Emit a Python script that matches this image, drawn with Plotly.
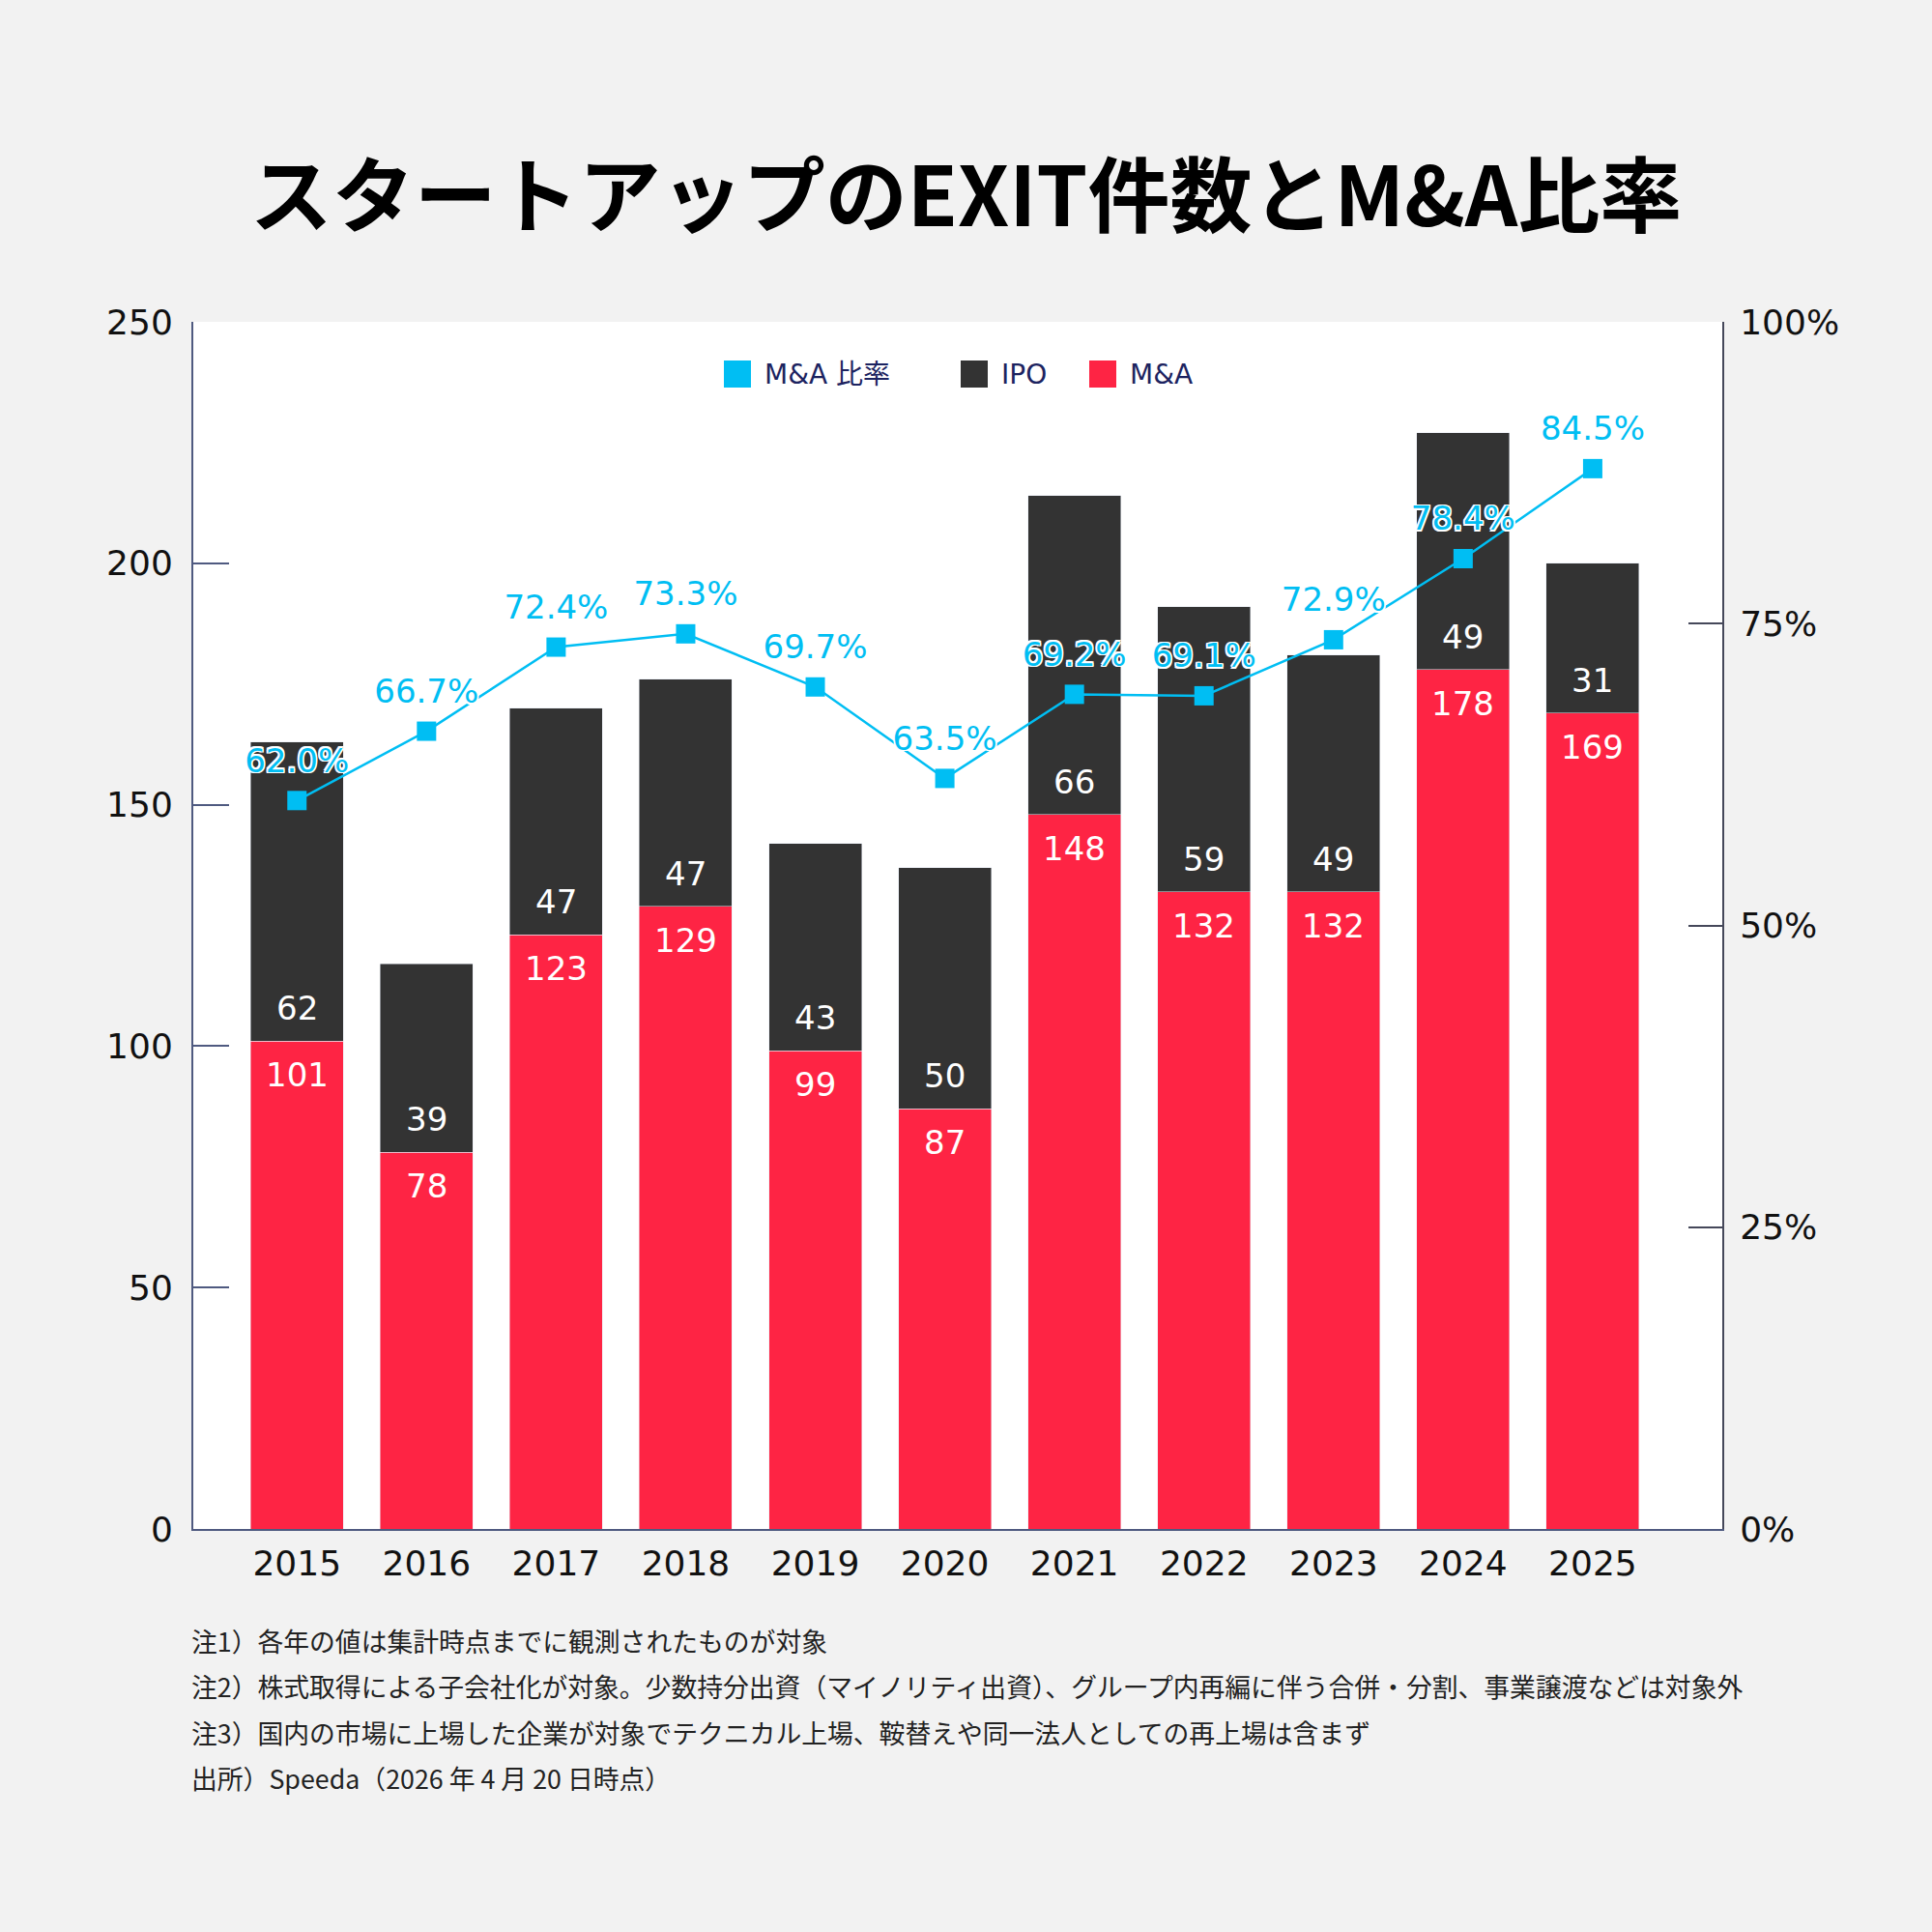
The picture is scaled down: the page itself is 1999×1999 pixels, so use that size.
import plotly.graph_objects as go

# EXIT counts by year
years = ['2015', '2016', '2017', '2018', '2019', '2020', '2021', '2022', '2023', '2024', '2025']
ma_counts = [101, 78, 123, 129, 99, 87, 148, 132, 132, 178, 169]
ipo_counts = [62, 39, 47, 47, 43, 50, 66, 59, 49, 49, 31]
ma_ratio = [62.0, 66.7, 72.4, 73.3, 69.7, 63.5, 69.2, 69.1, 72.9, 78.4, 84.5]

left_ticks = [0, 50, 100, 150, 200, 250]
right_ticks = [0, 25, 50, 75, 100]
right_labels = ['0%', '25%', '50%', '75%', '100%']

legend_names = ['M&A 比率', 'IPO', 'M&A']

notes = [
    '注1）各年の値は集計時点までに観測されたものが対象',
    '注2）株式取得による子会社化が対象。少数持分出資（マイノリティ出資）、グループ内再編に伴う合併・分割、事業譲渡などは対象外',
    '注3）国内の市場に上場した企業が対象でテクニカル上場、鞍替えや同一法人としての再上場は含まず',
    '出所）Speeda（2026 年 4 月 20 日時点）',
]

RED = '#fe2444'
DARK = '#333333'
CYAN = '#00bef3'
AXIS = '#4f5a80'
FONT = 'DejaVu Sans, Noto Sans CJK JP, sans-serif'
JP = 'Noto Sans CJK JP, sans-serif'
outline = ('-1.5px -1.5px 0 #fff, 1.5px -1.5px 0 #fff, -1.5px 1.5px 0 #fff, '
           '1.5px 1.5px 0 #fff, 0 1.5px 0 #fff, 0 -1.5px 0 #fff, 1.5px 0 0 #fff, -1.5px 0 0 #fff')

# plot area in pixels: x 200..1782, y 333..1582
L, R, T, B = 200, 1782, 333, 1582


def px_x(px):
    return (px - L) / (R - L)


def px_y(px):
    return (B - px) / (B - T)


fig = go.Figure()

fig.add_trace(go.Bar(x=years, y=ma_counts, name='M&A', marker_color=RED))
fig.add_trace(go.Bar(x=years, y=ipo_counts, name='IPO', marker_color=DARK))
fig.add_trace(go.Scatter(
    x=years, y=ma_ratio, yaxis='y3', mode='lines+markers', name='M&A 比率',
    line=dict(color=CYAN, width=2.5),
    marker=dict(symbol='square', size=20, color=CYAN),
))
fig.add_trace(go.Scatter(
    x=years, y=ma_ratio, yaxis='y3', mode='markers+text',
    marker=dict(size=32, opacity=0), hoverinfo='skip',
    text=[f'{v:.1f}%' for v in ma_ratio], textposition='top center', cliponaxis=False,
    textfont=dict(color=CYAN, size=34, family=FONT, shadow=outline),
))
# keeps the right axis drawn
fig.add_trace(go.Scatter(x=years[:1], y=[None], yaxis='y2', hoverinfo='skip'))

# value labels: M&A just under the boundary, IPO just above it
for i, (base, n) in enumerate(zip(ma_counts, ipo_counts)):
    fig.add_annotation(
        x=i, y=base, text=str(base), showarrow=False, yanchor='middle', yshift=-35,
        font=dict(color='white', size=34, family=FONT),
    )
    fig.add_annotation(
        x=i, y=base, text=str(n), showarrow=False, yanchor='middle', yshift=34,
        font=dict(color='white', size=34, family=FONT),
    )

# legend drawn as squares + labels
legend_colors = [CYAN, DARK, RED]
legend_left = [749, 994, 1127]
for name, color, x0 in zip(legend_names, legend_colors, legend_left):
    fig.add_shape(
        type='rect', xref='paper', yref='paper',
        x0=px_x(x0), x1=px_x(x0 + 28), y0=px_y(387 + 14), y1=px_y(387 - 14),
        fillcolor=color, line_width=0,
    )
    fig.add_annotation(
        text=name, xref='paper', yref='paper', x=px_x(x0 + 40), y=px_y(387),
        xanchor='left', yanchor='middle', showarrow=False,
        font=dict(size=28, color='#1c2360', family=FONT),
    )

for i, note in enumerate(notes):
    fig.add_annotation(
        text=note, xref='paper', yref='paper', x=0, y=px_y(1697.5 + i * 47.3),
        xanchor='left', yanchor='middle', showarrow=False, xshift=-4,
        font=dict(size=26.8, color='#222222', family=JP),
    )

fig.update_layout(
    width=1999, height=1999,
    margin=dict(l=L, r=1999 - R, t=T, b=1999 - B),
    paper_bgcolor='#f2f2f2', plot_bgcolor='white',
    font=dict(family=FONT, color='#111111'),
    barmode='stack', bargap=0.284, showlegend=False,
    title=dict(
        text='スタートアップのEXIT件数とM&A比率', x=0.5, xref='container',
        y=1 - 204 / 1999, yref='container', yanchor='middle', xanchor='center',
        font=dict(size=85, family=JP, weight='bold', color='black'),
    ),
    xaxis=dict(
        type='category', range=[-0.8, 11.0], showline=True, linecolor=AXIS, linewidth=2,
        ticks='', showgrid=False, tickfont=dict(size=36, color='#111111'),
        ticklabelstandoff=3,
    ),
    yaxis=dict(
        range=[0, 250], tickvals=left_ticks, showline=True, linecolor=AXIS, linewidth=2,
        ticks='inside', ticklen=37, tickwidth=2, tickcolor=AXIS, showgrid=False,
        zeroline=False, tickfont=dict(size=36, color='#111111'), ticklabelstandoff=12,
    ),
    yaxis2=dict(
        type='linear', overlaying='y', side='right', range=[0, 100],
        tickvals=right_ticks, ticktext=right_labels,
        showline=True, linecolor='#45485a', linewidth=2, ticks='inside', ticklen=35,
        tickwidth=2, tickcolor='#45485a', showgrid=False, zeroline=False,
        tickfont=dict(size=36, color='#111111'), ticklabelstandoff=9,
    ),
    yaxis3=dict(overlaying='y', range=[12.62, 94.45], visible=False),
)

fig.write_html(
    'out.html',
    config={'displayModeBar': False},
    post_script="document.body.style.margin='0';document.body.style.background='#f2f2f2';",
)
